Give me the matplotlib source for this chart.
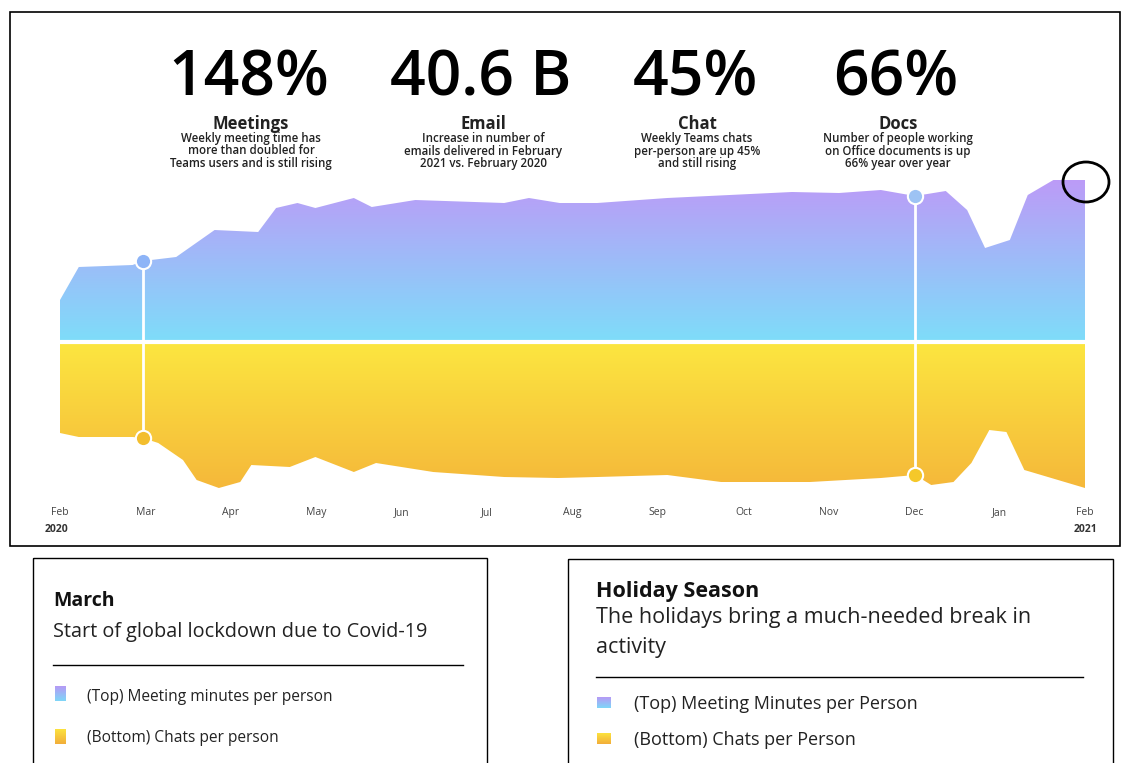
import numpy as np
import matplotlib.pyplot as plt
from matplotlib.colors import LinearSegmentedColormap, to_rgb
from matplotlib.patches import Rectangle, Ellipse

plt.rcParams['font.family'] = ['Open Sans', 'DejaVu Sans']

# month axis (0 = Feb 2020 ... 12 = Feb 2021)
months = ["Feb", "Mar", "Apr", "May", "Jun", "Jul", "Aug", "Sep", "Oct", "Nov", "Dec", "Jan", "Feb"]
years = ["2020", "2021"]

# top band: meeting minutes per person (relative height)
meet_pos = [0.0, 0.22, 0.85, 0.97, 1.36, 1.81, 2.32, 2.53, 2.78, 2.99, 3.44, 3.65, 4.16, 5.20,
            5.49, 5.85, 6.29, 7.11, 8.57, 9.12, 9.61, 10.01, 10.37, 10.62, 10.83, 11.12, 11.33,
            11.63, 12.0]
meet_val = [42, 75, 77, 81, 85, 112, 110, 134, 139, 134, 144, 135, 142, 139,
            144, 139, 139, 144, 150, 149, 152, 146, 151, 132, 94, 102, 147,
            162, 162]

# bottom band: chats per person (relative depth)
chat_pos = [0.0, 0.22, 0.85, 0.97, 1.15, 1.44, 1.60, 1.86, 2.11, 2.24, 2.69, 2.99, 3.44, 3.70,
            4.37, 5.20, 5.83, 6.29, 7.11, 7.74, 8.78, 9.61, 10.01, 10.20, 10.46, 10.67, 10.88,
            11.08, 11.29, 12.0]
chat_val = [91, 95, 95, 96, 101, 118, 138, 146, 140, 123, 125, 115, 130, 121,
            130, 135, 136, 135, 133, 140, 140, 136, 133, 143, 140, 121, 88,
            90, 128, 146]

# highlighted moments (March lockdown, December holidays)
event_pos = [0.97, 10.01]

stat_values = ["148%", "40.6 B", "45%", "66%"]
stat_names = ["Meetings", "Email", "Chat", "Docs"]
stat_notes = ["Weekly meeting time has\nmore than doubled for\nTeams users and is still rising",
              "Increase in number of\nemails delivered in February\n2021 vs. February 2020",
              "Weekly Teams chats\nper-person are up 45%\nand still rising",
              "Number of people working\non Office documents is up\n66% year over year"]

W, H = 1123, 763
fig = plt.figure(figsize=(W / 100, H / 100), dpi=100)


def px_axes(x0, y0, x1, y1):
    # axes placed by pixel box (top-left origin)
    return fig.add_axes([x0 / W, 1 - y1 / H, (x1 - x0) / W, (y1 - y0) / H])


def gradient_fill(ax, x, y, c_inner, c_outer):
    poly = ax.fill_between(x, 0, y, color='none', lw=0)
    cmap = LinearSegmentedColormap.from_list('g', [c_inner, c_outer])
    grad = np.linspace(0, 1, 256).reshape(-1, 1)
    ext = max(abs(v) for v in y)
    if y[0] > 0:
        im = ax.imshow(grad, cmap=cmap, aspect='auto', origin='lower',
                       extent=[x[0], x[-1], 0, ext], zorder=1)
    else:
        im = ax.imshow(grad, cmap=cmap, aspect='auto', origin='upper',
                       extent=[x[0], x[-1], -ext, 0], zorder=1)
    im.set_clip_path(poly.get_paths()[0], transform=ax.transData)


# ---- main chart ----
ax = px_axes(60, 160, 1085, 500)
gradient_fill(ax, meet_pos, meet_val, "#7EDDFA", "#BC9BF7")
gradient_fill(ax, chat_pos, [-v for v in chat_val], "#FCE640", "#F5B83A")
ax.axhline(0, color='white', lw=3, zorder=3)

top_cols = ["#8DB4F7", "#9DC3F4"]
bot_cols = ["#F3BE2E", "#F5C82A"]
for i, p in enumerate(event_pos):
    t = np.interp(p, meet_pos, meet_val)
    b = -np.interp(p, chat_pos, chat_val)
    ax.plot([p, p], [b, t], color='white', lw=2, zorder=4)
    ax.plot(p, t, 'o', ms=11, mfc=top_cols[i], mec='white', mew=1.5, zorder=5, clip_on=False)
    ax.plot(p, b, 'o', ms=11, mfc=bot_cols[i], mec='white', mew=1.5, zorder=5, clip_on=False)

ax.set_xlim(0, 12)
ax.set_ylim(-158, 182)
ax.set_xticks(range(13), months, fontsize=7.5, color='#444444')
ax.tick_params(length=0, pad=5)
ax.set_yticks([])
for s in ax.spines.values():
    s.set_visible(False)
ax.patch.set_alpha(0)

# ---- overlay in pixel coordinates ----
ov = fig.add_axes([0, 0, 1, 1])
ov.set_xlim(0, W)
ov.set_ylim(H, 0)
ov.axis('off')

ov.add_patch(Rectangle((10, 12), 1110, 534, fill=False, ec='black', lw=1.2))
ov.text(57, 529, years[0], ha='center', va='center', fontsize=7.5, fontweight='bold', color='#333333')
ov.text(1086, 529, years[1], ha='center', va='center', fontsize=7.5, fontweight='bold', color='#333333')
ov.add_patch(Ellipse((1086, 182), 46, 40, fill=False, ec='black', lw=2))

stat_x = [249, 481, 695, 896]
for x, v, n, note in zip(stat_x, stat_values, stat_names, stat_notes):
    ov.text(x, 96, v, ha='center', va='baseline', fontsize=45, fontweight='semibold', color='black')
    ov.text(x + 2, 124, n, ha='center', va='center', fontsize=12, fontweight='bold', color='#222222')
    ov.text(x + 2, 151, note, ha='center', va='center', fontsize=8.3, fontweight='semibold',
            color='#222222', linespacing=0.92)

# ---- annotation boxes ----
ov.add_patch(Rectangle((33, 558), 454, 220, fill=False, ec='black', lw=1))
ov.add_patch(Rectangle((568, 559), 545, 220, fill=False, ec='black', lw=1))

ov.text(53, 601, "March", ha='left', va='center', fontsize=14, fontweight='bold', color='#111111')
ov.text(53, 632, "Start of global lockdown due to Covid-19", ha='left', va='center', fontsize=14.3, color='#222222')
ov.plot([53, 463], [665, 665], color='black', lw=1)
ov.text(87, 697, "(Top) Meeting minutes per person", ha='left', va='center', fontsize=11.2, color='#222222')
ov.text(87, 738, "(Bottom) Chats per person", ha='left', va='center', fontsize=11.2, color='#222222')

ov.text(596, 591, "Holiday Season", ha='left', va='center', fontsize=15.5, fontweight='bold', color='#111111')
ov.text(596, 618, "The holidays bring a much-needed break in", ha='left', va='center', fontsize=15.5, color='#222222')
ov.text(596, 648, "activity", ha='left', va='center', fontsize=15.5, color='#222222')
ov.plot([596, 1083], [677, 677], color='black', lw=1)
ov.text(634, 704, "(Top) Meeting Minutes per Person", ha='left', va='center', fontsize=13, color='#222222')
ov.text(634, 740, "(Bottom) Chats per Person", ha='left', va='center', fontsize=13, color='#222222')


def swatch(x0, y0, w, h, c_top, c_bot):
    g = np.linspace(0, 1, 32).reshape(-1, 1, 1)
    rgb = (1 - g) * np.array(to_rgb(c_top)) + g * np.array(to_rgb(c_bot))
    ov.imshow(rgb, extent=(x0, x0 + w, y0 + h, y0), origin='upper', aspect='auto', zorder=3)


swatch(55, 686, 11, 15, "#B59AF5", "#7FD6F8")
swatch(55, 729, 11, 15, "#FCE23E", "#F2AE3A")
swatch(597, 697, 14, 11, "#B59AF5", "#7FD6F8")
swatch(597, 733, 14, 11, "#FCE23E", "#F2AE3A")
ov.set_xlim(0, W)
ov.set_ylim(H, 0)

fig.savefig("out.png", dpi=100)
